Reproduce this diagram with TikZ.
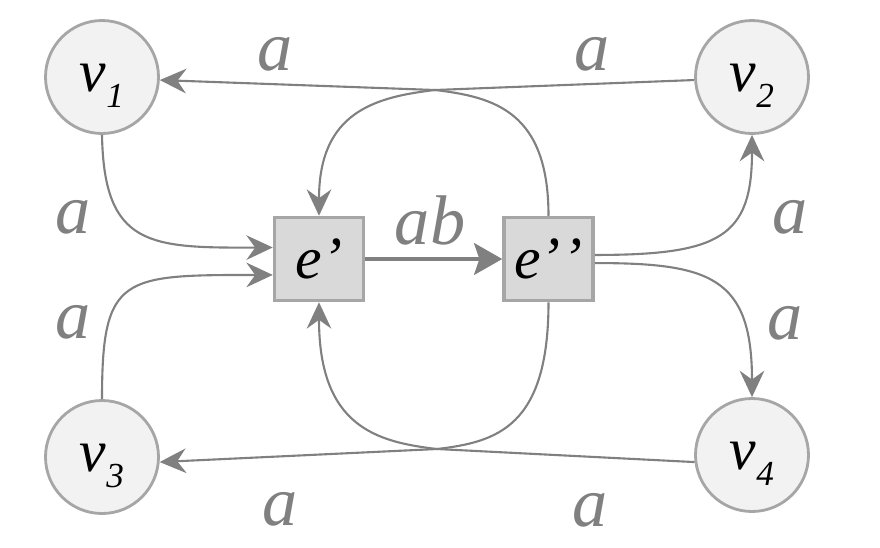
\documentclass[tikz,border=0pt]{standalone}
\usepackage{fontspec}
\setmainfont{LiberationSerif}[Extension=.ttf,UprightFont=*-Regular,ItalicFont=*-Italic,BoldFont=*-Bold]
\usetikzlibrary{arrows.meta}
\definecolor{linegray}{HTML}{808080}
\definecolor{rimgray}{HTML}{A6A6A6}
\definecolor{vfill}{HTML}{F2F2F2}
\definecolor{efill}{HTML}{D9D9D9}
\newcommand{\vname}[1]{\textit{v}\raisebox{-4.8pt}{\fontsize{10}{10}\selectfont\textit{#1}}}

\begin{document}
\begin{tikzpicture}[
  vnode/.style={circle,draw=rimgray,fill=vfill,line width=0.8pt,minimum size=1.13cm,inner sep=0pt,
    text height=8pt,text depth=0pt,font=\fontsize{17}{20}\selectfont},
  enode/.style={rectangle,draw=rimgray,fill=efill,line width=1pt,minimum width=0.89cm,minimum height=0.83cm,
    inner sep=0pt,font=\fontsize{17}{20}\selectfont\itshape},
  lbl/.style={text=linegray,font=\fontsize{20}{24}\selectfont\itshape},
  conn/.style={draw=linegray,line width=0.6pt,-{Stealth[length=7.5pt,width=7pt,inset=2.5pt]}}]
\useasboundingbox (0,0) rectangle (8.8,5.47);
% vertices
\node[vnode] (v1) at (1.02,4.70) {\vname{1}};
\node[vnode] (v2) at (7.52,4.70) {\vname{2}};
\node[vnode] (v3) at (1.02,0.90) {\vname{3}};
\node[vnode] (v4) at (7.52,0.92) {\vname{4}};
% hyperedges
\node[enode] (e1) at (3.19,2.88) {e’};
\node[enode] (e2) at (5.485,2.88) {e’\kern0.6pt’};
% into e'
\draw[conn] (v1.south) .. controls (1.04,3.0) and (1.5,2.99) .. (e1.166);
\draw[conn] (v3.north) .. controls (1.02,2.72) and (1.22,2.72) .. (e1.199);
\draw[conn] (v2.183) -- (4.35,4.57) .. controls (3.75,4.5) and (3.19,4.35) .. (e1.north);
\draw[conn] (v4.187) -- (4.37,0.98) .. controls (3.77,1.05) and (3.19,1.2) .. (e1.south);
% e' to e''
\draw[draw=linegray,line width=1.2pt,-{Stealth[length=8pt,width=9pt,inset=1.5pt]}] (e1) -- (e2);
% out of e''
\draw[conn] (e2.north) .. controls (5.485,4.35) and (4.95,4.5) .. (4.35,4.57) -- (v1.-3);
\draw[conn] (e2.south) .. controls (5.485,1.2) and (4.97,1.05) .. (4.37,0.98) -- (v3.-5);
\draw[conn] (e2.5) .. controls (7.2,2.92) and (7.52,3.1) .. (v2.south);
\draw[conn] (e2.-5) .. controls (7.1,2.84) and (7.52,2.7) .. (v4.north);
% labels
\node[lbl] (la1) at (2.75,4.93) {a};
\node[lbl] (la2) at (5.92,4.93) {a};
\node[lbl] (la3) at (0.73,3.30) {a};
\node[lbl] (la4) at (0.73,2.25) {a};
\node[lbl] (la5) at (7.90,3.30) {a};
\node[lbl] (la6) at (7.85,2.24) {a};
\node[lbl] (la7) at (2.80,0.38) {a};
\node[lbl] (la8) at (5.90,0.37) {a};
\node[lbl] (lab) at (4.30,3.27) {ab};
\end{tikzpicture}
\end{document}
